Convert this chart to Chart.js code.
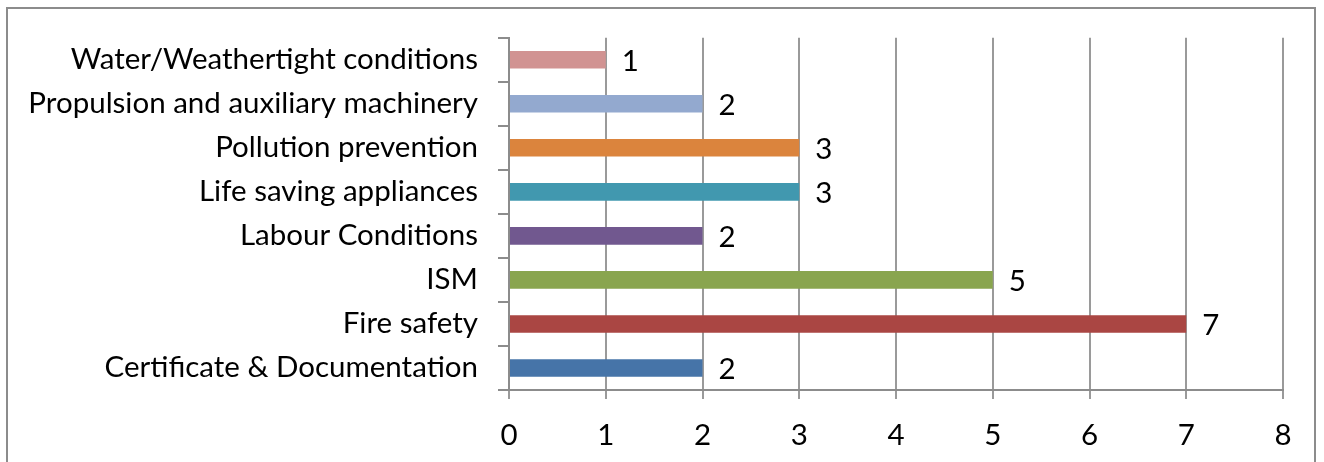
<!DOCTYPE html>
<html>
<head>
<meta charset="utf-8">
<script src="https://cdn.jsdelivr.net/npm/chart.js@4/dist/chart.umd.min.js"></script>
<style>
html,body{margin:0;padding:0;background:#fff;}
#wrap{position:absolute;left:0;top:0;width:1324px;height:462px;}
#frame{position:absolute;left:6px;top:7px;width:1310px;height:470px;border:2px solid #8c8c8c;box-sizing:border-box;}
canvas{position:absolute;left:0;top:0;}
</style>
</head>
<body>
<div id="wrap">
<div id="frame"></div>
<canvas id="c" width="1324" height="462"></canvas>
</div>
<script>
const categories = [
  "Water/Weathertight conditions",
  "Propulsion and auxiliary machinery",
  "Pollution prevention",
  "Life saving appliances",
  "Labour Conditions",
  "ISM",
  "Fire safety",
  "Certificate & Documentation"
];
const values = [1, 2, 3, 3, 2, 5, 7, 2];
const barColors = ["#D19392", "#93A9CF", "#DB843D", "#4198AF", "#71588F", "#89A54E", "#AA4643", "#4674A8"];
const xTicks = [0, 1, 2, 3, 4, 5, 6, 7, 8];

const FONT = "Lato, 'Open Sans', sans-serif";
const FSIZE = 29.5;

const valueLabels = {
  id: 'valueLabels',
  afterDatasetsDraw(chart) {
    const ctx = chart.ctx;
    const meta = chart.getDatasetMeta(0);
    ctx.save();
    ctx.font = FSIZE + "px " + FONT;
    ctx.fillStyle = "#000";
    ctx.textAlign = "left";
    ctx.textBaseline = "middle";
    meta.data.forEach((bar, i) => {
      ctx.fillText(String(values[i]), bar.x + 16, bar.y + 2);
    });
    ctx.restore();
  }
};

new Chart(document.getElementById('c'), {
  type: 'bar',
  data: {
    labels: categories,
    datasets: [{
      data: values,
      backgroundColor: barColors,
      borderWidth: 0,
      categoryPercentage: 0.4,
      barPercentage: 1.0
    }]
  },
  options: {
    indexAxis: 'y',
    responsive: false,
    animation: false,
    devicePixelRatio: 1,
    layout: { padding: { top: 37, right: 41, bottom: 0, left: 0 } },
    plugins: { legend: { display: false }, tooltip: { enabled: false } },
    scales: {
      x: {
        min: 0, max: 8,
        afterFit(s) { s.height = 72; },
        afterBuildTicks(s) { s.ticks = xTicks.map(v => ({ value: v })); },
        grid: { color: "#9a9a9a", lineWidth: 2, tickLength: 9, drawTicks: true },
        border: { color: "#8c8c8c", width: 2 },
        ticks: { color: "#000", font: { family: FONT, size: FSIZE }, padding: 19 }
      },
      y: {
        afterFit(s) { s.width = 509; },
        grid: { display: true, drawOnChartArea: false, offset: true, color: "#8c8c8c", lineWidth: 2, tickLength: 11 },
        border: { color: "#8c8c8c", width: 2 },
        ticks: { color: "#000", font: { family: FONT, size: FSIZE }, padding: 20, autoSkip: false }
      }
    }
  },
  plugins: [valueLabels]
});
</script>
</body>
</html>
